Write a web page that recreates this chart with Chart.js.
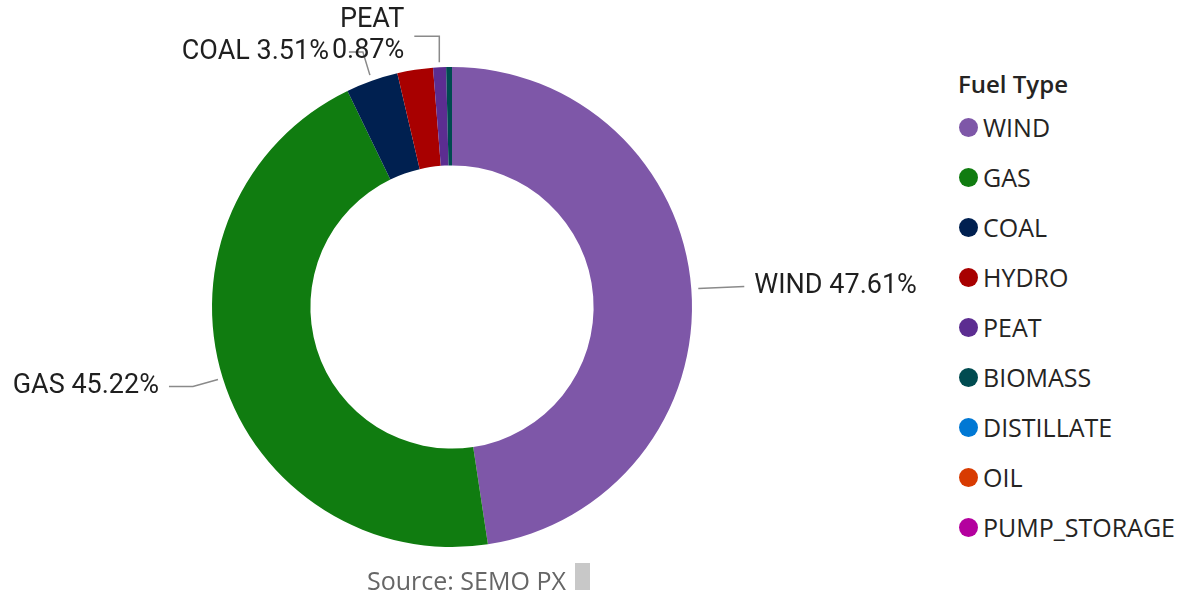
<!DOCTYPE html>
<html>
<head>
<meta charset="utf-8">
<script src="https://cdn.jsdelivr.net/npm/chart.js@4/dist/chart.umd.min.js"></script>
<style>
  html, body { margin:0; padding:0; background:#fff; overflow:hidden; }
  #wrap { position:relative; width:1178px; height:599px; }
  #c { position:absolute; left:0; top:0; }
  #legend { position:absolute; left:958px; top:68px; font-family:"Open Sans", "Noto Sans", sans-serif; color:#252423; }
  #legend .title { font-weight:600; font-size:24px; height:32px; line-height:32px; }
  #legend .item { height:50px; line-height:50px; font-size:25px; display:flex; align-items:center; white-space:nowrap; margin-left:1px; }
  #legend .dot { width:19px; height:19px; border-radius:50%; margin-right:5px; flex:none; }
  #legend .items { margin-top:2px; }
  #source { position:absolute; left:367px; top:564px; font-family:"Open Sans", "Noto Sans", sans-serif; font-size:25px; color:#666666; line-height:32px; height:32px; }
  #box { position:absolute; left:575px; top:563px; width:15px; height:27px; background:#c8c8c8; }
</style>
</head>
<body>
<div id="wrap">
  <canvas id="c" width="940" height="599"></canvas>
  <div id="legend"></div>
  <div id="source">Source: SEMO PX</div>
  <div id="box"></div>
</div>
<script>
const categories = ["WIND", "GAS", "COAL", "HYDRO", "PEAT", "BIOMASS", "DISTILLATE", "OIL", "PUMP_STORAGE"];
const shares = [47.61, 45.22, 3.51, 2.40, 0.87, 0.39, 0, 0, 0];
const colors = ["#7E57A8", "#107C10", "#002050", "#A80000", "#5C2D91", "#004B50", "#0078D4", "#D83B01", "#B4009E"];
const legendTitle = "Fuel Type";
const shownLabels = ["WIND", "GAS", "COAL", "PEAT"];

// legend
const lg = document.getElementById('legend');
let html = '<div class="title">' + legendTitle + '</div><div class="items">';
categories.forEach((c, i) => {
  html += '<div class="item"><span class="dot" style="background:' + colors[i] + '"></span>' + c + '</div>';
});
lg.innerHTML = html + '</div>';

// label layouts (leader line elbows, relative)
const labelLayout = {
  WIND: { gap: 7, elbow: [0, 0], end: [46, -2], align: 'left', textGap: 10, lines: 1 },
  GAS:  { gap: 5, elbow: [-25, 7], end: [-24, 0], align: 'right', textGap: 10, lines: 1 },
  COAL: { gap: 6, elbow: [-7, -23], end: [-14, 0], align: 'right', textGap: 20, lines: 1 },
  PEAT: { gap: 5, elbow: [0, -26], end: [-25, 0], align: 'right', textGap: 10, lines: 2 }
};

const labelPlugin = {
  id: 'leaderLabels',
  afterDatasetsDraw(chart) {
    const ctx = chart.ctx;
    const meta = chart.getDatasetMeta(0);
    const total = shares.reduce((a, b) => a + b, 0);
    ctx.save();
    ctx.font = '27px Roboto, "DejaVu Sans", sans-serif';
    ctx.textBaseline = 'middle';
    ctx.fillStyle = '#1f1f1f';
    categories.forEach((cat, i) => {
      if (!shownLabels.includes(cat)) return;
      const arc = meta.data[i];
      const L = labelLayout[cat];
      const mid = (arc.startAngle + arc.endAngle) / 2;
      const r = arc.outerRadius + L.gap;
      const p0 = [arc.x + Math.cos(mid) * r, arc.y + Math.sin(mid) * r];
      const p1 = [p0[0] + L.elbow[0], p0[1] + L.elbow[1]];
      const p2 = [p1[0] + L.end[0], p1[1] + L.end[1]];
      ctx.strokeStyle = '#8a8a8a';
      ctx.lineWidth = 1.5;
      ctx.beginPath();
      ctx.moveTo(p0[0], p0[1]);
      ctx.lineTo(p1[0], p1[1]);
      ctx.lineTo(p2[0], p2[1]);
      ctx.stroke();
      const pct = (shares[i] / total * 100).toFixed(2) + '%';
      const tx = L.align === 'left' ? p2[0] + L.textGap : p2[0] - L.textGap;
      ctx.textAlign = L.align;
      if (L.lines === 1) {
        ctx.fillText(cat + ' ' + pct, tx, p2[1]);
      } else {
        ctx.fillText(cat, tx, p2[1] - 16);
        ctx.fillText(pct, tx, p2[1] + 15);
      }
    });
    ctx.restore();
  }
};

new Chart(document.getElementById('c'), {
  type: 'doughnut',
  data: {
    labels: categories,
    datasets: [{
      data: shares,
      backgroundColor: colors,
      borderWidth: 0,
      hoverOffset: 0
    }]
  },
  options: {
    responsive: false,
    animation: false,
    devicePixelRatio: 1,
    cutout: '59%',
    layout: { padding: { left: 212, right: 248, top: 67, bottom: 52 } },
    plugins: { legend: { display: false }, tooltip: { enabled: false } }
  },
  plugins: [labelPlugin]
});
</script>
</body>
</html>
